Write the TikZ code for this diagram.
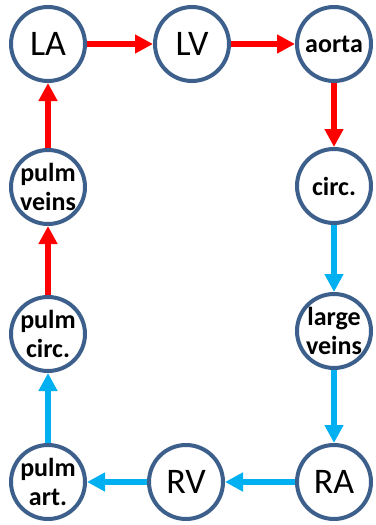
\documentclass[tikz,border=0pt]{standalone}
\usepackage{fontspec}
\setmainfont{Carlito}
\usetikzlibrary{arrows.meta}
\definecolor{ring}{HTML}{3C5F8C}
\definecolor{redflow}{HTML}{FF0000}
\definecolor{blueflow}{HTML}{00B0F0}
\begin{document}
\begin{tikzpicture}[x=1pt,y=-1pt,
  chamber/.style={circle,draw=ring,line width=4pt,minimum size=74pt,inner sep=0pt,fill=white,
    font=\fontsize{36}{36}\selectfont},
  vessel/.style={chamber,align=center,font=\bfseries\fontsize{26}{29}\selectfont},
  flow/.style={line width=6pt,-{Triangle[length=18pt,width=18pt]}},
  oxy/.style={flow,draw=redflow},
  deoxy/.style={flow,draw=blueflow}]
\useasboundingbox (0,0) rectangle (375,525);
\node[chamber] (LA) at (48,44) {LA};
\node[chamber] (LV) at (192,44) {LV};
\node[vessel] (ao) at (334,44) {aorta};
\node[vessel] (circ) at (334,186) {circ.};
\node[vessel] (lv) at (334,331) {large\\veins};
\node[chamber] (RA) at (334,482) {RA};
\node[chamber] (RV) at (186,482) {RV};
\node[vessel] (pa) at (48,482) {pulm\\art.};
\node[vessel] (pc) at (48,334) {pulm\\circ.};
\node[vessel] (pv) at (48,187) {pulm\\veins};
\draw[oxy] (LA) -- (LV);
\draw[oxy] (LV) -- (ao);
\draw[oxy] (ao) -- (circ);
\draw[deoxy] (circ) -- (lv);
\draw[deoxy] (lv) -- (RA);
\draw[deoxy] (RA) -- (RV);
\draw[deoxy] (RV) -- (pa);
\draw[deoxy] (pa) -- (pc);
\draw[oxy] (pc) -- (pv);
\draw[oxy] (pv) -- (LA);
\end{tikzpicture}
\end{document}
